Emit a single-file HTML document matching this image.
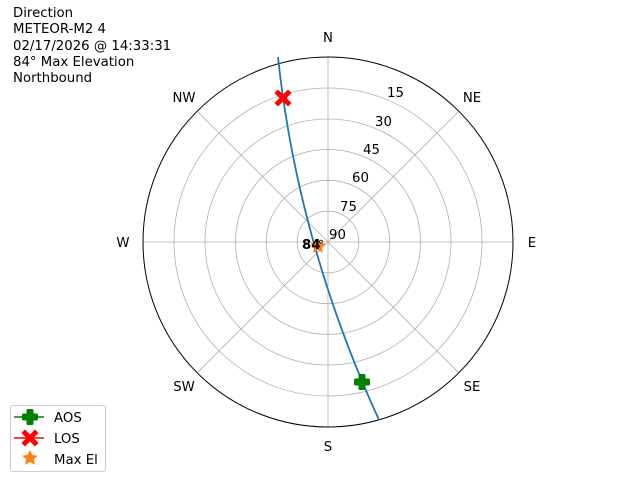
<!DOCTYPE html>
<html><head><style>body{margin:0;background:#fff}svg{display:block}text{font-family:"DejaVu Sans","Liberation Sans",sans-serif;font-size:13.3px;fill:#000}</style></head>
<body>
<svg width="640" height="480" viewBox="0 0 640 480" xmlns="http://www.w3.org/2000/svg">
<g stroke="#b0b0b0" stroke-width="0.8" fill="none">
<circle cx="328" cy="242" r="154"/><circle cx="328" cy="242" r="123"/><circle cx="328" cy="242" r="92.5"/><circle cx="328" cy="242" r="61.7"/><circle cx="328" cy="242" r="30.8"/>
<line x1="328" y1="57" x2="328" y2="427"/><line x1="143" y1="242" x2="513" y2="242"/>
<line x1="197.2" y1="111.2" x2="458.8" y2="372.8"/><line x1="458.8" y1="111.2" x2="197.2" y2="372.8"/>
</g>
<circle cx="328" cy="242" r="185" fill="none" stroke="#000" stroke-width="1"/>
<g text-anchor="middle">
<text x="328" y="42">N</text><text x="472" y="102">NE</text><text x="532" y="247">E</text><text x="472" y="391">SE</text>
<text x="328" y="451">S</text><text x="184" y="391">SW</text><text x="123" y="247">W</text><text x="184" y="102">NW</text>
</g>
<g>
<text x="387" y="97">15</text><text x="375" y="126">30</text><text x="363" y="154">45</text><text x="352" y="182">60</text><text x="340" y="211">75</text><text x="329" y="239">90</text>
</g>
<path d="M278,57 Q297.5,241.5 379,420" fill="none" stroke="#1f77b4" stroke-width="1.8"/>
<path d="M318,238 l2.4,5 5.4,0.6 -4,3.7 1.1,5.4 -4.9,-2.7 -4.9,2.7 1.1,-5.4 -4,-3.7 5.4,-0.6z" fill="#ff7f0e"/>
<text x="302" y="249" style="font-weight:bold">84</text><text x="318" y="249" style="font-size:12px">°</text>
<g transform="translate(362,382)" fill="#008000"><rect x="-3.5" y="-8" width="7" height="16" rx="1.5"/><rect x="-8" y="-3.5" width="16" height="7" rx="1.5"/></g>
<g transform="translate(283,98)" stroke="#ff0000" stroke-width="5" stroke-linecap="square"><line x1="-5" y1="-5" x2="5" y2="5"/><line x1="-5" y1="5" x2="5" y2="-5"/></g>
<g>
<text x="13" y="17">Direction</text><text x="13" y="33">METEOR-M2 4</text><text x="13" y="50">02/17/2026 @ 14:33:31</text><text x="13" y="66">84° Max Elevation</text><text x="13" y="82">Northbound</text>
</g>
<rect x="10.5" y="405.5" width="95" height="66" rx="2" fill="#fff" stroke="#ccc"/>
<line x1="14" y1="417" x2="44" y2="417" stroke="#008000" stroke-width="1.5"/>
<g transform="translate(30,417)" fill="#008000"><rect x="-3.5" y="-8" width="7" height="16" rx="1.5"/><rect x="-8" y="-3.5" width="16" height="7" rx="1.5"/></g>
<line x1="14" y1="438" x2="44" y2="438" stroke="#ff0000" stroke-width="1.5"/>
<g transform="translate(30,438)" stroke="#ff0000" stroke-width="5" stroke-linecap="square"><line x1="-5" y1="-5" x2="5" y2="5"/><line x1="-5" y1="5" x2="5" y2="-5"/></g>
<path d="M30,450 l2.4,5 5.4,0.6 -4,3.7 1.1,5.4 -4.9,-2.7 -4.9,2.7 1.1,-5.4 -4,-3.7 5.4,-0.6z" fill="#ff7f0e"/>
<text x="54" y="422">AOS</text><text x="54" y="443">LOS</text><text x="54" y="464">Max El</text>
</svg>
</body></html>
